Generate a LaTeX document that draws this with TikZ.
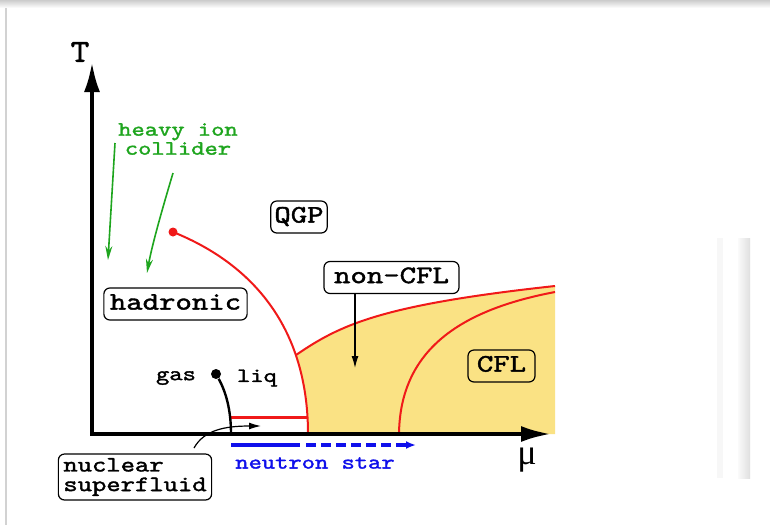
\documentclass[tikz,border=0pt]{standalone}
\usepackage{fontspec}
\setsansfont{Liberation Serif}
\newfontfamily\tipo{lmmono10-regular}[Extension=.otf, FakeBold=1.5]
\usetikzlibrary{arrows.meta}
\definecolor{vermelho}{RGB}{240,25,25}
\definecolor{verde}{RGB}{30,165,30}
\definecolor{azul}{RGB}{15,15,235}
\definecolor{amarelo}{RGB}{250,226,132}
\newcommand{\corA}{vermelho}
\newcommand{\corB}{verde}
\newcommand{\corC}{azul}
\newcommand{\corD}{amarelo}
\newcommand{\largo}[1]{\scalebox{1.24}[1]{#1}}
\tikzset{
  fase/.style={draw, rounded corners=3pt, line width=0.6pt, inner xsep=3pt, inner ysep=2.5pt,
    text height=8.3pt, text depth=2.7pt, font=\tipo\fontsize{12.6}{14}\selectfont},
  rotulo/.style={font=\tipo\fontsize{10.2}{9.5}\selectfont},
  eixo/.style={line width=2pt, -{Latex[length=15pt,width=8pt]}}
}

\begin{document}
\begin{tikzpicture}[x=0.5pt, y=-0.5pt]
          % moldura
        \useasboundingbox (0,0) rectangle (770,525);
        \fill[white] (0,0) rectangle (770,525);
        \shade[top color=gray!40, bottom color=white] (0,0) rectangle (770,8);
        \draw[gray!35, line width=0.8pt] (6,8) -- (6,525);
        \shade[left color=gray!4, right color=gray!25] (738,238) rectangle (750,478);
        \fill[gray!6] (717,238) rectangle (723,478);

          % fase CFL / non-CFL (a direita da linha hadronic)
        \begin{scope}
          \clip (173,232) .. controls (255,265) and (308,330) .. (308,434) -- (560,434) -- (560,200) -- cycle;
          \fill[\corD] (286,364) -- (296,355) .. controls (340,325) and (380,305) .. (555,286)
            -- (555,434) -- (286,434) -- cycle;
        \end{scope}

          % linha hadronic / QGP
        \node[circle, fill=\corA, inner sep=0pt, minimum size=4.5pt] (pcrit) at (173,232) {};
        \coordinate (pfim) at (308,434);
        \draw[\corA, line width=1pt] (pcrit.center) .. controls (255,265) and (308,330) .. (pfim);

          % linha non-CFL
        \coordinate (ncflini) at (296,355);
        \coordinate (ncfltopo) at (555,286);
        \draw[\corA, line width=1pt] (ncflini) .. controls (340,325) and (380,305) .. (ncfltopo);

          % linha CFL
        \coordinate (cflini) at (399,434);
        \coordinate (cflfim) at (555,292);
        \draw[\corA, line width=1pt] (cflini) .. controls (400,350) and (460,310) .. (cflfim);

          % gas / liq
        \draw[\corA, line width=1.5pt] (231,417) -- (308,417);
        \node[circle, fill=black, inner sep=0pt, minimum size=5pt] (pgl) at (216,374) {};
        \coordinate (pbase) at (231,434);
        \draw[line width=1.2pt] (pgl) .. controls (226,392) and (231,410) .. (pbase);
        \node[rotulo] (gas) at (176,378) {\largo{gas}};
        \node[rotulo] (liq) at (257,378) {\largo{liq}};

          % eixos
        \coordinate (origem) at (92,434);
        \coordinate (topoT) at (92,62);
        \coordinate (fimMu) at (551,434);
        \draw[eixo] ([yshift=1pt]origem) -- (topoT);
        \draw[eixo] ([xshift=-1pt]origem) -- (fimMu);
        \node[font=\tipo\fontsize{16}{16}\selectfont] (T) at (80,52) {\scalebox{1.1}[1]{T}};
        \node[font=\sffamily\fontsize{18}{18}\selectfont] (mu) at (527,460) {μ};

          % caixas
        \node[fase, inner xsep=1.8pt] (qgp) at (299,217) {\largo{QGP}};
        \node[fase] (had) at (175.5,304) {\largo{hadronic}};
        \node[fase, minimum width=67.5pt] (ncfl) at (391.5,277.5) {\largo{non-CFL}};
        \node[fase, minimum width=33.5pt] (cfl) at (501.5,366) {\largo{CFL}};
        \node[draw, rounded corners=3pt, line width=0.6pt, inner xsep=2.5pt, inner ysep=2pt, align=left,
          font=\tipo\fontsize{11}{9.8}\selectfont] (nsf) at (135,477) {\largo{nuclear}\\\largo{superfluid}};

        \coordinate (ncflfim) at (355,368);
        \draw[line width=0.6pt, -{Latex[length=6pt,width=3.5pt]}] (ncfl.south -| ncflfim) -- (ncflfim);

          % nuclear superfluid
        \coordinate (nsfini) at (194,448);
        \coordinate (nsffim) at (261,426);
        \draw[line width=0.6pt, -{Latex[length=6pt,width=3.5pt]}] (nsfini) .. controls (204,430) and (225,426) .. (nsffim);

          % heavy ion collider
        \node[rotulo, text=\corB, align=center] (hic) at (178,139) {\largo{heavy ion}\\ \largo{collider}};
        \coordinate (hicA) at (115,143);
        \coordinate (hicAfim) at (108,260);
        \coordinate (hicB) at (173,173);
        \coordinate (hicBfim) at (147,273);
        \draw[\corB, line width=0.8pt, -{Stealth[length=7pt,width=3.5pt]}] (hicA) -- (hicAfim);
        \draw[\corB, line width=0.8pt, -{Stealth[length=7pt,width=3.5pt]}] (hicB) .. controls (162,210) and (152,245) .. (hicBfim);

          % neutron star
        \coordinate (nsA) at (231,445);
        \coordinate (nsB) at (300,445);
        \coordinate (nsC) at (416,445);
        \draw[\corC, line width=1.8pt] (nsA) -- (nsB);
        \draw[\corC, line width=1.8pt, dash pattern=on 5pt off 2.5pt, -{Latex[length=5pt,width=4pt]}] ([xshift=3pt]nsB) -- (nsC);
        \node[rotulo, text=\corC] (ns) at (315,463) {\largo{neutron star}};
\end{tikzpicture}
\end{document}
